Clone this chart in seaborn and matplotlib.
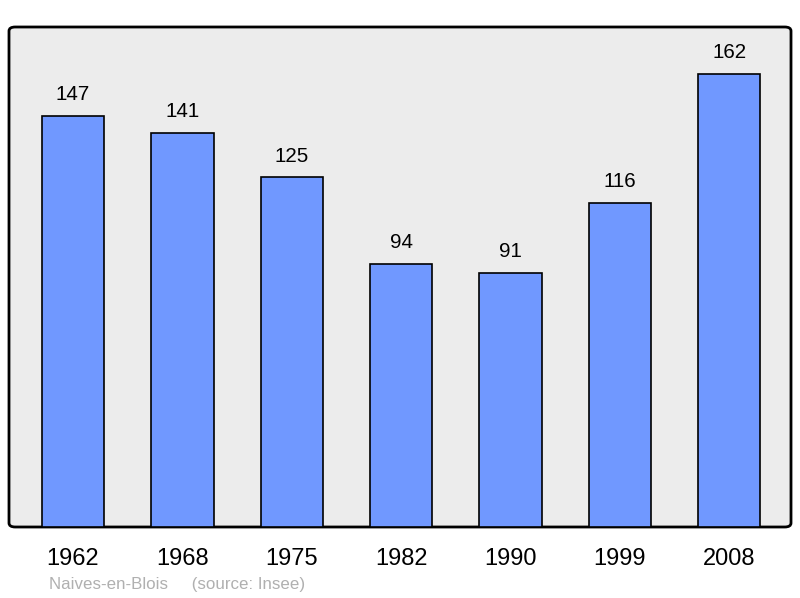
import matplotlib
matplotlib.use("Agg")
import matplotlib.pyplot as plt
import seaborn as sns
import pandas as pd
from matplotlib.patches import FancyBboxPatch

years = ["1962", "1968", "1975", "1982", "1990", "1999", "2008"]
population = [147, 141, 125, 94, 91, 116, 162]
commune = "Naives-en-Blois"
source = "(source: Insee)"

df = pd.DataFrame({"year": years, "pop": population})

sns.set_theme(style="white")
plt.rcParams["font.family"] = ["Liberation Sans", "DejaVu Sans"]

fig = plt.figure(figsize=(8, 5.98), dpi=100)
ax = fig.add_axes([9 / 800, 71 / 598, 782 / 800, 500 / 598])
ax.set_facecolor("#ececec")

sns.barplot(data=df, x="year", y="pop", color="#7098ff", saturation=1,
            width=0.57, edgecolor="black", linewidth=1.2, ax=ax, zorder=2)

ax.set_xlim(-0.585, 6.565)
ax.set_ylim(0, 178.8)
ax.set_xlabel("")
ax.set_ylabel("")
ax.set_yticks([])
ax.tick_params(axis="x", length=0, pad=15, labelsize=17, colors="black")

for i, v in enumerate(population):
    ax.annotate(str(v), (i, v), xytext=(0, 8.5), textcoords="offset points",
                ha="center", va="bottom", fontsize=14.8, color="black")

for s in ax.spines.values():
    s.set_visible(False)
ax.patch.set_visible(False)
frame = FancyBboxPatch((0, 0), 1, 1, boxstyle="round,pad=0,rounding_size=0.008",
                       transform=ax.transAxes, facecolor="#ececec",
                       edgecolor="black", linewidth=2, zorder=0, clip_on=False)
ax.add_patch(frame)

fig.text(49 / 800, 1 - 584 / 598, commune + "     " + source, fontsize=12.2,
         color="#b0b0b0", ha="left", va="center")

fig.savefig("out.png", dpi=100)
